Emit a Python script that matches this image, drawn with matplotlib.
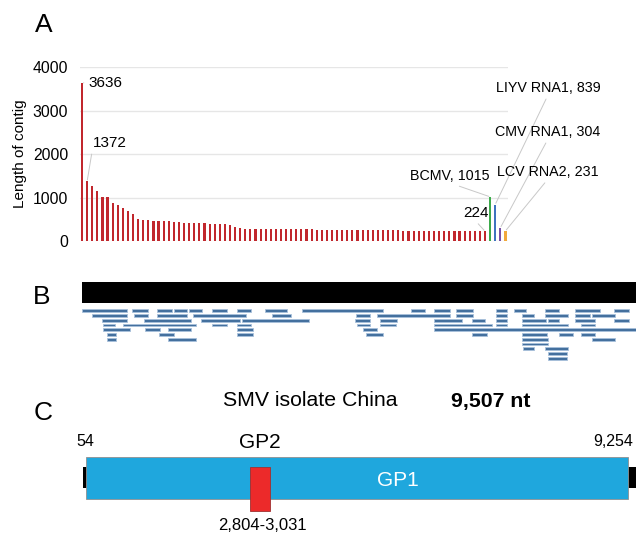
import numpy as np
import matplotlib
matplotlib.use("Agg")
import matplotlib.pyplot as plt
from matplotlib.patches import Rectangle

plt.rcParams['font.family'] = ['Liberation Sans', 'DejaVu Sans']

# panel A: contig lengths (red = SMV contigs, then the other viruses)
smv_contigs = [3636, 1372, 1260, 1150, 1015, 1010, 880, 830, 770, 700,
               630, 500, 490, 485, 470, 455, 450, 450, 435, 430,
               425, 420, 420, 410, 405, 400, 395, 390, 380, 360,
               330, 290, 285, 285, 283, 280, 280, 278, 275, 275,
               272, 270, 270, 268, 266, 265, 263, 262, 260, 258,
               256, 255, 254, 252, 250, 250, 248, 247, 246, 245,
               244, 243, 242, 241, 240, 240, 239, 238, 237, 236,
               235, 234, 233, 232, 231, 230, 229, 228, 226, 224]
other_names = ['BCMV', 'LIYV RNA1', 'CMV RNA1', 'LCV RNA2']
other_lengths = [1015, 839, 304, 231]
other_colors = ['#3cab4b', '#3f73bf', '#7a4fa6', '#f2a93b']

# panel B: reads mapped onto the genome (nt), one list per stacking row
genome_len = 9507
read_rows = [
    [(10, 780), (870, 1140), (1300, 1550), (1580, 1810), (1840, 2060), (2230, 2500),
     (2670, 2910), (3140, 3520), (3770, 5160), (5650, 5880), (6040, 6320),
     (6420, 6710), (7100, 7290), (7410, 7620), (7950, 8190), (8460, 8890), (9130, 9390)],
    [(180, 780), (900, 1140), (1300, 1810), (1910, 2810), (3270, 3590), (4710, 4950),
     (5070, 6320), (6420, 6710), (7100, 7290), (7550, 7760), (7950, 8340),
     (8460, 8710), (8750, 9150)],
    [(340, 780), (1070, 1880), (2040, 2710), (2750, 3890), (4690, 4950), (5110, 5400),
     (6040, 6520), (6690, 6920), (7100, 7290), (7550, 7970), (7990, 8190),
     (8460, 8800), (9130, 9390)],
    [(370, 570), (700, 1960), (2230, 2500), (2670, 2910), (4730, 4950), (5110, 5390),
     (6040, 7040), (7100, 7290), (7550, 8340), (8560, 8800)],
    [(370, 820), (1080, 1350), (1480, 1880), (2670, 2930), (4830, 5070), (6040, 9507)],
    [(440, 580), (1330, 1590), (2670, 2930), (4880, 5160), (6690, 6950), (7550, 7980),
     (8190, 8420), (8560, 8800)],
    [(440, 580), (1480, 1960), (7550, 7990), (8750, 9150)],
    [(7550, 7990)],
    [(7570, 7760), (7950, 8340)],
    [(7990, 8330)],
    [(7990, 8330)],
]

# panel C: genome map
cds_start, cds_end = 54, 9254
gp2_start, gp2_end = 2804, 3031

W, H = 636, 535
fig = plt.figure(figsize=(W / 100, H / 100), dpi=100)


def px_axes(left, top, right, bottom):
    return fig.add_axes([left / W, 1 - bottom / H, (right - left) / W, (bottom - top) / H])


def ftext(x, y, s, **kw):
    fig.text(x / W, 1 - y / H, s, ha=kw.pop('ha', 'center'), va=kw.pop('va', 'center'), **kw)


# ---- A ----
ax = px_axes(80, 67, 508, 241)
n_smv = len(smv_contigs)
xs = np.arange(n_smv + len(other_lengths))
ax.bar(xs[:n_smv], smv_contigs, width=0.42, color='#c1272d')
ax.bar(xs[n_smv:], other_lengths, width=0.42, color=other_colors)
ax.set_xlim(-0.4, 83.5)
ax.set_ylim(0, 4000)
ax.set_yticks([0, 1000, 2000, 3000, 4000])
ax.set_xticks([])
ax.yaxis.grid(True, color='#e6e6e6', lw=1)
ax.set_axisbelow(True)
for sp in ax.spines.values():
    sp.set_visible(False)
ax.tick_params(axis='y', length=0, pad=8.5, labelsize=11.3)
ax.set_ylabel('Length of contig', fontsize=11)
ax.yaxis.set_label_coords(-0.125, 0.5)

lead = dict(arrowstyle='-', color='#c8c8c8', lw=0.7, shrinkA=1, shrinkB=1)


def label(i, val, s, tx, ty, rel, ha='center', size=11):
    ax.annotate(s, xy=(i, val), xycoords='data', xytext=(tx, H - ty),
                textcoords='figure pixels', ha=ha, va='center', fontsize=size,
                arrowprops=dict(lead, relpos=rel))


label(0, smv_contigs[0], str(smv_contigs[0]), 88, 83, (0, 0.5), ha='left')
label(1, smv_contigs[1], str(smv_contigs[1]), 93, 143, (0, 0.3), ha='left')
label(n_smv - 1, smv_contigs[-1], str(smv_contigs[-1]), 476, 213, (0.45, 0))
label(n_smv, other_lengths[0], f'{other_names[0]}, {other_lengths[0]}', 450, 176,
      (0.5, 0), size=10.3)
for k, ty in zip([1, 2, 3], [88, 132, 172]):
    label(n_smv + k, other_lengths[k], f'{other_names[k]}, {other_lengths[k]}', 548, ty,
          (0.5, 0), size=10.3)

# ---- B ----
axb = px_axes(81.7, 278, 636, 365)
axb.set_xlim(0, genome_len)
axb.set_ylim(365, 278)
axb.axis('off')
axb.add_patch(Rectangle((0, 281.7), genome_len, 21.6, color='black', lw=0))
for r, row in enumerate(read_rows):
    for s, e in row:
        axb.add_patch(Rectangle((s, 309.4 + 4.75 * r), e - s, 2.6, facecolor='#44709e',
                                edgecolor='#a9c1dc', lw=0.6))

# ---- C ----
axc = px_axes(82.5, 380, 636, 535)
axc.set_xlim(0, 9390)
axc.set_ylim(535, 380)
axc.axis('off')
axc.add_patch(Rectangle((-60, 467), genome_len + 60, 21, color='black', lw=0))
axc.add_patch(Rectangle((cds_start, 456.7), cds_end - cds_start, 42.6,
                        facecolor='#1fa7dd', edgecolor='#909090', lw=0.6))
gp2_mid = (gp2_start + gp2_end) / 2
axc.add_patch(Rectangle((gp2_mid - 165 + 90, 467.3), 330, 43.4,
                        facecolor='#ec2a2a', edgecolor='#a03030', lw=0.6))

ftext(43.5, 24.5, 'A', fontsize=19)
ftext(42, 297, 'B', fontsize=19)
ftext(43, 413, 'C', fontsize=19)
ftext(310, 400, 'SMV isolate China', fontsize=15.3)
ftext(491, 401, f'{genome_len:,} nt', fontsize=15.3, fontweight='bold')
ftext(85, 441.5, f'{cds_start}', fontsize=11.5)
ftext(613, 441.5, f'{cds_end:,}', fontsize=11.5)
ftext(260, 443, 'GP2', fontsize=15)
ftext(398, 480, 'GP1', fontsize=15, color='white')
ftext(262, 526, f'{gp2_start:,}-{gp2_end:,}', fontsize=12)

fig.savefig('out.png', dpi=100)
